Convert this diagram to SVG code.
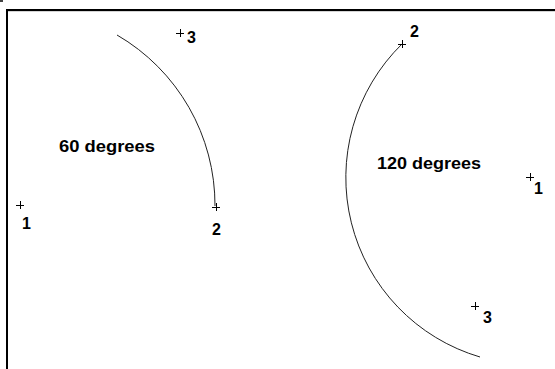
<svg xmlns="http://www.w3.org/2000/svg" width="555" height="369" viewBox="0 0 555 369">
<style>
.arc{fill:none;stroke:#222;stroke-width:1}
.cross{fill:none;stroke:#000;stroke-width:1}
.lbl{font-family:"Liberation Sans",Arial,sans-serif;font-weight:bold;font-size:16px;fill:#000}
</style>
<defs>
<path id="plus" class="cross" d="M-4,0.5H4M0.5,-4V4"/>
</defs>
<rect width="555" height="369" fill="#fff"/>
<rect x="0" y="0" width="3" height="2" fill="#444"/>
<g id="frame">
<rect x="6" y="9" width="549" height="2" fill="#000"/>
<rect x="8" y="11" width="547" height="1" fill="#d4d4d4"/>
<rect x="6" y="9" width="2" height="360" fill="#000"/>
</g>
<g id="arcs">
<path class="arc" d="M117,35 A197,197 0 0 1 215,206"/>
<path class="arc" d="M402,44 A187,187 0 0 0 480,357"/>
</g>
<g id="left-1"><use href="#plus" x="20" y="205"/><text class="lbl" x="22" y="229">1</text></g>
<g id="left-2"><use href="#plus" x="216" y="207"/><text class="lbl" x="212" y="235">2</text></g>
<g id="left-3"><use href="#plus" x="180" y="33"/><text class="lbl" x="187" y="43">3</text></g>
<g id="right-1"><use href="#plus" x="530" y="177"/><text class="lbl" x="534" y="194">1</text></g>
<g id="right-2"><use href="#plus" x="402" y="44"/><text class="lbl" x="410" y="37">2</text></g>
<g id="right-3"><use href="#plus" x="475" y="306"/><text class="lbl" x="483" y="323">3</text></g>
<g id="labels">
<text class="lbl" x="59" y="152" textLength="96" lengthAdjust="spacingAndGlyphs">60 degrees</text>
<text class="lbl" x="377" y="169" textLength="104" lengthAdjust="spacingAndGlyphs">120 degrees</text>
</g>
</svg>
